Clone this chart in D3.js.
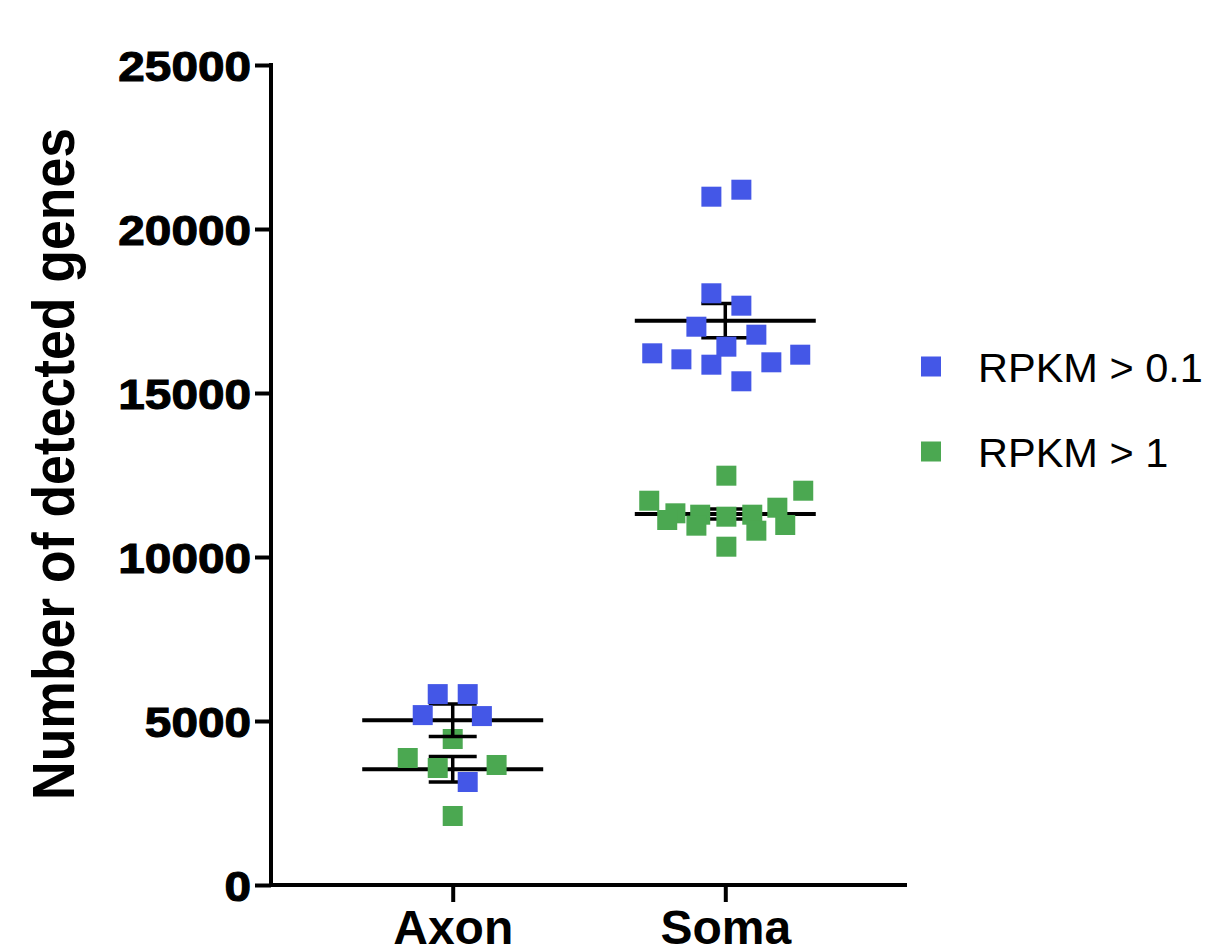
<!DOCTYPE html>
<html>
<head>
<meta charset="utf-8">
<script src="https://cdn.jsdelivr.net/npm/d3@7"></script>
<style>
  html, body { margin: 0; padding: 0; background: #fff; }
  svg { display: block; }
</style>
</head>
<body>
<svg id="chart" width="1219" height="947"></svg>
<script>
// ---- data ----
const categories = ["Axon", "Soma"];
const seriesNames = ["RPKM > 0.1", "RPKM > 1"];
const yTicks = [0, 5000, 10000, 15000, 20000, 25000];

// RPKM > 0.1 (blue)
const axonHigh = [5820, 5820, 5180, 5150, 3140];
const axonHighJitter = [-0.055, 0.055, -0.11, 0.107, 0.055];
const somaHigh = [20985, 21198, 18040, 17662, 17021, 16778, 16412, 16210, 16027, 15863, 15936, 16168, 15357];
const somaHighJitter = [-0.051, 0.059, -0.051, 0.059, -0.106, 0.114, 0.004, -0.268, -0.161, -0.051, 0.169, 0.275, 0.059];

// RPKM > 1 (green)
const axonLow = [4451, 3872, 3567, 3659, 2104];
const axonLowJitter = [0, -0.165, -0.055, 0.161, 0];
const somaLow = [12479, 12021, 11716, 11503, 11332, 11290, 11290, 11128, 11229, 10976, 10955, 10802, 10314];
const somaLowJitter = [0.004, 0.286, -0.279, 0.191, -0.183, -0.092, 0.099, -0.213, 0.004, 0.22, -0.106, 0.114, 0.004];

const colors = ["#4457e7", "#4ba851"];

const series = [
  { name: seriesNames[0], color: colors[0], groups: [
      { cat: 0, values: axonHigh, jitter: axonHighJitter },
      { cat: 1, values: somaHigh, jitter: somaHighJitter } ] },
  { name: seriesNames[1], color: colors[1], groups: [
      { cat: 0, values: axonLow, jitter: axonLowJitter },
      { cat: 1, values: somaLow, jitter: somaLowJitter } ] }
];

// ---- layout ----
const svg = d3.select("#chart");
const x = d3.scaleLinear().domain([1/3, 8/3]).range([271, 907]);
const y = d3.scaleLinear().domain([0, 25000]).range([885, 65]);
const markSize = 20;
const meanHalf = 0.332;
const capHalf = 0.088;

// y axis
const yAxis = svg.append("g")
  .attr("transform", `translate(${x(1/3)},0)`)
  .call(d3.axisLeft(y).tickValues(yTicks).tickSize(16).tickPadding(0).tickFormat(d3.format("d")));
yAxis.select(".domain").attr("stroke", "#000").attr("stroke-width", 4)
  .attr("d", `M0,${y(25000)-2}V${y(0)+2}`);
yAxis.selectAll(".tick line").attr("stroke", "#000").attr("stroke-width", 4);
yAxis.selectAll(".tick text")
  .attr("x", 0).attr("dy", "0.36em")
  .attr("transform", "translate(-20,0) scale(1.11,1)")
  .attr("fill", "#000")
  .attr("stroke", "#000").attr("stroke-width", 1.1)
  .style("font-family", "'Liberation Sans', Arial, sans-serif")
  .style("font-weight", "bold")
  .style("font-size", "43px");

// x axis
const xAxis = svg.append("g")
  .attr("transform", `translate(0,${y(0)})`)
  .call(d3.axisBottom(x).tickValues([1, 2]).tickSize(17).tickPadding(8)
        .tickFormat(d => categories[d - 1]));
xAxis.select(".domain").attr("stroke", "#000").attr("stroke-width", 4)
  .attr("d", `M${x(1/3)-2},0H${x(8/3)}`);
xAxis.selectAll(".tick line").attr("stroke", "#000").attr("stroke-width", 4);
xAxis.selectAll(".tick text")
  .attr("fill", "#000")
  .style("font-family", "'Liberation Sans', Arial, sans-serif")
  .style("font-weight", "bold")
  .style("font-size", "48px");

// y axis title
svg.append("text")
  .attr("transform", `translate(74,${(y(0)+y(25000))/2 - 11}) rotate(-90)`)
  .attr("text-anchor", "middle")
  .attr("textLength", 672)
  .attr("lengthAdjust", "spacingAndGlyphs")
  .style("font-family", "'Liberation Sans', Arial, sans-serif")
  .style("font-weight", "bold")
  .style("font-size", "59px")
  .text("Number of detected genes");

// draw series: green first, blue on top
[series[1], series[0]].forEach(s => {
  const g = svg.append("g");
  s.groups.forEach(grp => {
    const m = d3.mean(grp.values);
    const sem = d3.deviation(grp.values) / Math.sqrt(grp.values.length);
    const cx = grp.cat + 1;
    // mean line
    g.append("line")
      .attr("x1", x(cx - meanHalf)).attr("x2", x(cx + meanHalf))
      .attr("y1", y(m)).attr("y2", y(m))
      .attr("stroke", "#000").attr("stroke-width", 4);
    // sem bar
    g.append("line")
      .attr("x1", x(cx)).attr("x2", x(cx))
      .attr("y1", y(m + sem)).attr("y2", y(m - sem))
      .attr("stroke", "#000").attr("stroke-width", 3.5);
    [m + sem, m - sem].forEach(v => {
      g.append("line")
        .attr("x1", x(cx - capHalf)).attr("x2", x(cx + capHalf))
        .attr("y1", y(v)).attr("y2", y(v))
        .attr("stroke", "#000").attr("stroke-width", 3.5);
    });
    // points
    g.selectAll(null).data(grp.values.map((v, i) => ({ v, j: grp.jitter[i] })))
      .join("rect")
      .attr("x", d => x(cx + d.j) - markSize / 2)
      .attr("y", d => y(d.v) - markSize / 2)
      .attr("width", markSize).attr("height", markSize)
      .attr("fill", s.color);
  });
});

// legend
const legend = svg.append("g");
series.forEach((s, i) => {
  const ly = 366.5 + i * 85;
  legend.append("rect")
    .attr("x", 921).attr("y", ly - 10)
    .attr("width", 20).attr("height", 20)
    .attr("fill", s.color);
  legend.append("text")
    .attr("x", 978).attr("y", ly + 15.5)
    .style("font-family", "'Liberation Sans', Arial, sans-serif")
    .style("font-size", "41.5px")
    .attr("fill", "#000")
    .text(s.name);
});
</script>
</body>
</html>
